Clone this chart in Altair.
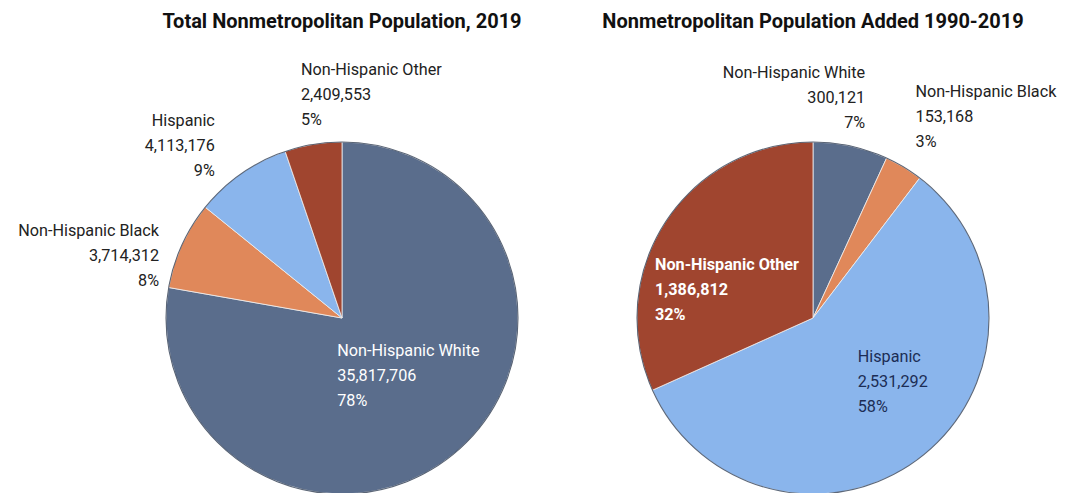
import math
import altair as alt
import pandas as pd

# ---- data ----
titles = ["Total Nonmetropolitan Population, 2019",
          "Nonmetropolitan Population Added 1990-2019"]
categories = ["Non-Hispanic White", "Non-Hispanic Black", "Hispanic", "Non-Hispanic Other"]
pop_2019 = [35817706, 3714312, 4113176, 2409553]
pct_2019 = [78, 8, 9, 5]
pop_added = [300121, 153168, 2531292, 1386812]
pct_added = [7, 3, 58, 32]

colors = ["#5a6d8c", "#e0885a", "#8ab5ec", "#a0452f"]

# ---- build table (fractions / cumulative positions derived from values) ----
rows = []
for p, (title, vals, pcts) in enumerate([(titles[0], pop_2019, pct_2019),
                                          (titles[1], pop_added, pct_added)]):
    total = sum(vals)
    cum = 0.0
    for i, (c, v, pc) in enumerate(zip(categories, vals, pcts)):
        f = v / total
        rows.append(dict(panel=title, key=f"{p}|{c}", category=c, value=v,
                         start=cum, end=cum + f, mid=cum + f / 2,
                         label=f"{c}\n{v:,}\n{pc}%"))
        cum += f
df = pd.DataFrame(rows)
panels = pd.DataFrame({"panel": titles})

# ---- layout / styles ----
FONT = "Roboto"
R = 176
CY = 305
theta_scale = alt.Scale(domain=[0, 1], range=[0, 2 * math.pi])
x_enc = alt.X("panel:N", axis=None,
              scale=alt.Scale(type="point", domain=titles, range=[329, 800], padding=0))
color_enc = alt.Color("category:N", legend=None,
                      scale=alt.Scale(domain=categories, range=colors))

base = alt.Chart(df)

slices = base.mark_arc(radius=R, stroke="#f0f0f0", strokeWidth=0.8).encode(
    x=x_enc,
    y=alt.value(CY),
    theta=alt.Theta("start:Q", scale=theta_scale, stack=None),
    theta2="end:Q",
    color=color_enc,
)

outline = alt.Chart(panels).mark_arc(
    radius=R, fillOpacity=0, stroke="#2f3c52", strokeOpacity=0.75, strokeWidth=1.1
).encode(
    x=x_enc,
    y=alt.value(CY),
    theta=alt.value(0),
    theta2=alt.value(2 * math.pi),
)

title_layer = alt.Chart(panels).mark_text(
    font=FONT, fontSize=20, fontWeight="bold", color="#111111",
    baseline="alphabetic", align="center"
).encode(
    x=x_enc,
    y=alt.value(15),
    text="panel:N",
)

dark = "#222222"
label_style = {
    "0|Non-Hispanic White": dict(radius=75, align="left", dx=-53, dy=-24, color="#ffffff"),
    "0|Non-Hispanic Black": dict(radius=200, align="right", dx=-1, dy=-4, color=dark),
    "0|Hispanic": dict(radius=210, align="right", dx=-7, dy=-25, color=dark),
    "0|Non-Hispanic Other": dict(radius=226, align="left", dx=-4, dy=-25, color=dark),
    "1|Non-Hispanic White": dict(radius=225, align="right", dx=4, dy=-25, color=dark),
    "1|Non-Hispanic Black": dict(radius=230, align="left", dx=-16, dy=-29, color=dark),
    "1|Non-Hispanic Other": dict(radius=100, align="left", dx=-74, dy=1, color="#ffffff",
                                 fontWeight="bold"),
    "1|Hispanic": dict(radius=80, align="left", dx=-5, dy=-24, color="#1c2d55"),
}

label_layers = []
for key, st in label_style.items():
    layer = base.transform_filter(alt.datum.key == key).mark_text(
        font=FONT, fontSize=16.2, lineHeight=25, lineBreak="\n",
        baseline="middle", **st
    ).encode(
        x=x_enc,
        y=alt.value(CY),
        theta=alt.Theta("mid:Q", scale=theta_scale, stack=None),
        text="label:N",
    )
    label_layers.append(layer)

chart = alt.layer(slices, outline, title_layer, *label_layers).properties(
    width=1040, height=476,
    autosize=alt.AutoSizeParams(type="none"),
    padding=5,
    background="#ffffff",
).configure_view(strokeWidth=0)

chart.save("out.html", embed_options={"renderer": "svg", "actions": False})
